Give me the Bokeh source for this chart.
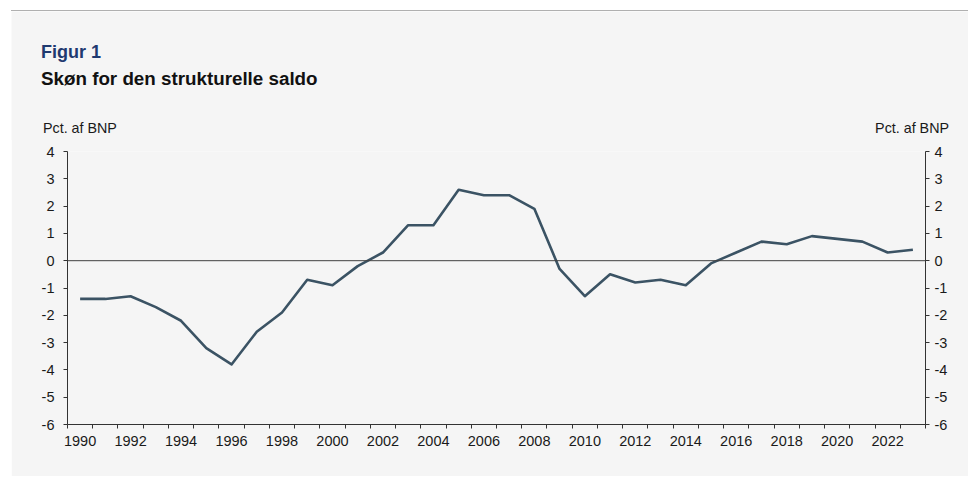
from bokeh.plotting import figure
from bokeh.models import (Range1d, LinearAxis, FixedTicker, Span, Label, ColumnDataSource)
from bokeh.embed import file_html
from bokeh.resources import INLINE

# ---- data ----
years = list(range(1990, 2024))
saldo = [-1.4, -1.4, -1.3, -1.7, -2.2, -3.2, -3.8, -2.6, -1.9, -0.7,
         -0.9, -0.2, 0.3, 1.3, 1.3, 2.6, 2.4, 2.4, 1.9, -0.3,
         -1.3, -0.5, -0.8, -0.7, -0.9, -0.1, 0.3, 0.7, 0.6, 0.9,
         0.8, 0.7, 0.3, 0.4]
x_labels = list(range(1990, 2024, 2))
y_ticks = [-6, -5, -4, -3, -2, -1, 0, 1, 2, 3, 4]
y_tick_labels = ["-6", "-5", "-4", "-3", "-2", "-1", "0", "1", "2", "3", "4"]
fig_label = "Figur 1"
title_text = "Skøn for den strukturelle saldo"
unit_text = "Pct. af BNP"

FONT = "Liberation Sans"
BG = "#f5f5f5"
LINE = "#3b5364"
TXT = "#1a1a1a"
W = 957
HEAD_H = 130
CHART_H = 337

# ---- header (titles and unit labels), its own root ----
head = figure(width=W, height=HEAD_H, output_backend="svg", toolbar_location=None,
              x_range=Range1d(0, W), y_range=Range1d(0, HEAD_H),
              x_axis_type=None, y_axis_type=None,
              min_border_left=0, min_border_right=0,
              min_border_top=0, min_border_bottom=0)
head.background_fill_color = BG
head.border_fill_color = BG
head.outline_line_color = None
head.grid.visible = False
head.styles = {"margin-left": "11px", "margin-top": "10px",
               "border-top": "1px solid #b0b0b0"}

def add_text(fig, x, y, text, size, bold=False, color=TXT, align="left"):
    fig.add_layout(Label(x=x, y=y, x_units="screen", y_units="screen", text=text,
                         text_font=FONT, text_font_size=size,
                         text_font_style="bold" if bold else "normal",
                         text_color=color, text_align=align,
                         text_baseline="alphabetic"))

add_text(head, 29.5, 89.5, fig_label, "18px", bold=True, color="#1f3a70")
add_text(head, 29.5, 63.5, title_text, "18.8px", bold=True, color="#111111")
add_text(head, 31.5, 13.5, unit_text, "14.3px")
add_text(head, 937.5, 13.5, unit_text, "14.3px", align="right")

# ---- chart ----
src = ColumnDataSource(data=dict(year=years, saldo=saldo))

p = figure(width=W, height=CHART_H, output_backend="svg", toolbar_location=None,
           x_range=Range1d(years[0] - 0.5, years[-1] + 0.5),
           y_range=Range1d(y_ticks[0], y_ticks[-1]),
           x_axis_type=None, y_axis_type=None,
           min_border_left=56, min_border_right=43,
           min_border_top=12, min_border_bottom=52)
p.background_fill_color = BG
p.border_fill_color = BG
p.outline_line_color = None
p.grid.visible = False
p.styles = {"margin-left": "11px", "margin-top": "-1px"}

def style_axis(ax):
    ax.axis_line_color = "#333333"
    ax.axis_line_width = 1
    ax.major_tick_line_color = "#333333"
    ax.major_tick_in = 0
    ax.major_tick_out = 4
    ax.minor_tick_line_color = "#333333"
    ax.minor_tick_in = 0
    ax.minor_tick_out = 4
    ax.major_label_text_font = FONT
    ax.major_label_text_font_size = "14.5px"
    ax.major_label_text_color = TXT

# x axis: labels at even years, tick marks at year boundaries
xax = LinearAxis(ticker=FixedTicker(ticks=x_labels,
                                    minor_ticks=[y - 0.5 for y in years] + [years[-1] + 0.5]))
style_axis(xax)
xax.major_tick_line_color = None
xax.major_label_standoff = 7
p.add_layout(xax, "below")

y_overrides = {t: s for t, s in zip(y_ticks, y_tick_labels)}

yl = LinearAxis(ticker=FixedTicker(ticks=y_ticks, minor_ticks=[]))
style_axis(yl)
yl.major_label_standoff = 9
yl.major_label_overrides = y_overrides
p.add_layout(yl, "left")

yr = LinearAxis(ticker=FixedTicker(ticks=y_ticks, minor_ticks=[]))
style_axis(yr)
yr.major_label_standoff = 5
yr.major_label_overrides = y_overrides
p.add_layout(yr, "right")

p.add_layout(Span(location=0, dimension="width", line_color="#404040", line_width=1))

p.line("year", "saldo", source=src, line_color=LINE, line_width=2.6, line_join="round")

open("out.html", "w").write(file_html([head, p], INLINE))
